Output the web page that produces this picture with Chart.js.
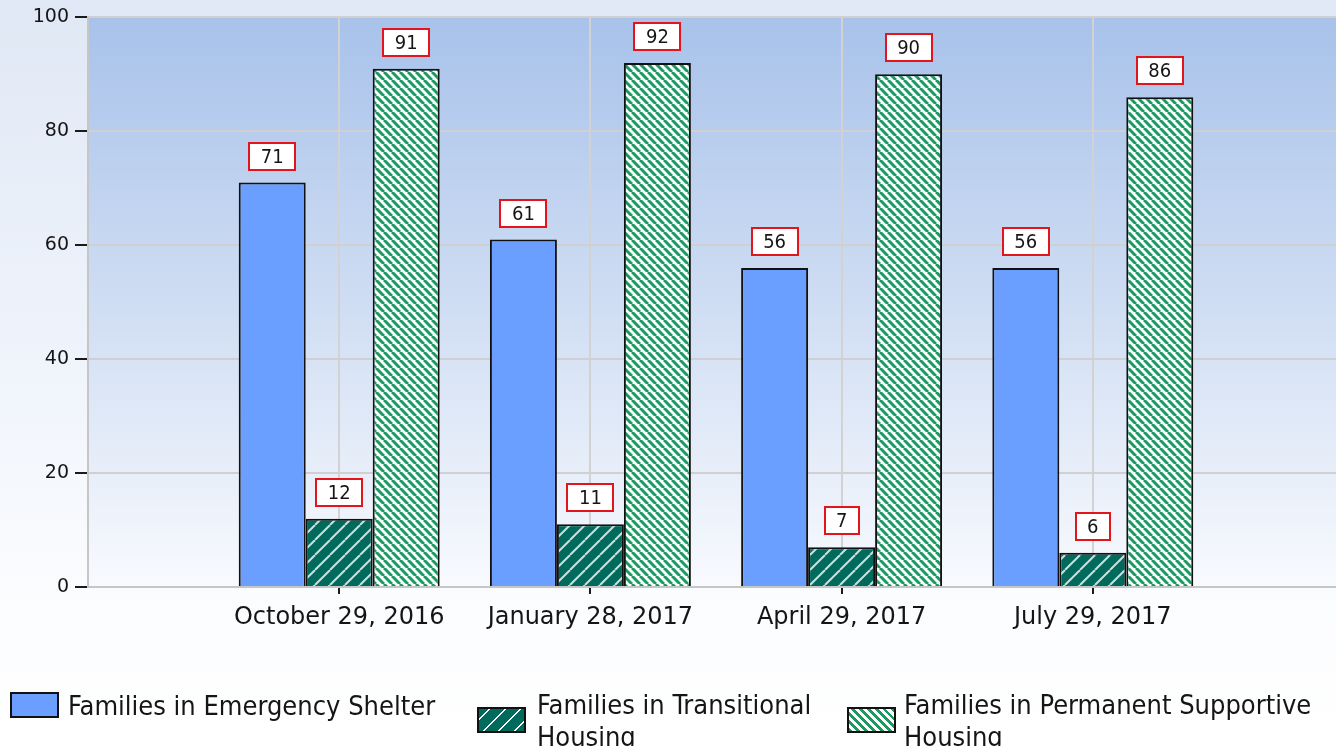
<!DOCTYPE html>
<html>
<head>
<meta charset="utf-8">
<script src="https://cdn.jsdelivr.net/npm/chart.js@4.4.0/dist/chart.umd.min.js"></script>
<style>
  html, body { margin: 0; padding: 0; width: 1336px; height: 746px; overflow: hidden; }
  body { position: relative; background: linear-gradient(#e0e8f5 0%, #eef3fb 45%, #fbfcfe 80%, #ffffff 100%); font-family: "DejaVu Sans Condensed", "DejaVu Sans", sans-serif; }
  #chart { position: absolute; left: 0; top: 0; }
  .legend-box { position: absolute; width: 45px; height: 22px; border: 2px solid #111; }
  .legend-text { position: absolute; font-size: 27px; line-height: 32px; color: #151515; }
</style>
</head>
<body>
<canvas id="chart" width="1344" height="746"></canvas>
<div id="legend"></div>
<script>
// Chart data
const categories = ['October 29, 2016', 'January 28, 2017', 'April 29, 2017', 'July 29, 2017'];
const seriesNames = ['Families in Emergency Shelter', 'Families in Transitional Housing', 'Families in Permanent Supportive Housing'];
const emergencyShelter = [71, 61, 56, 56];
const transitionalHousing = [12, 11, 7, 6];
const permanentSupportive = [91, 92, 90, 86];
const yTicks = [0, 20, 40, 60, 80, 100];

const FONT = '"DejaVu Sans Condensed", "DejaVu Sans", sans-serif';
const AXIS_FONT = '"DejaVu Sans", sans-serif';
const canvas = document.getElementById('chart');
const ctx = canvas.getContext('2d');

// diagonal hatch fill; dir 1 = "/" stripes, -1 = "\" stripes
function hatch(bg, fg, size, lw, dir) {
  const tile = document.createElement('canvas');
  tile.width = tile.height = size;
  const g = tile.getContext('2d');
  g.fillStyle = bg;
  g.fillRect(0, 0, size, size);
  g.strokeStyle = fg;
  g.lineWidth = lw;
  [-size, 0, size].forEach(o => {
    g.beginPath();
    if (dir > 0) { g.moveTo(o, size); g.lineTo(o + size, 0); }
    else { g.moveTo(o, 0); g.lineTo(o + size, size); }
    g.stroke();
  });
  return ctx.createPattern(tile, 'repeat');
}

const blueFill = '#6a9eff';
const tealFill = hatch('#006a5c', 'rgba(255,255,255,0.8)', 15, 2, 1);
const greenFill = hatch('#ffffff', '#1a9a60', 8, 3, -1);

// empty slot on each side so the bar groups sit on the grid lines
const pad = arr => [null, ...arr, null];

const plotBackground = {
  id: 'plotBackground',
  beforeDraw(chart) {
    const { ctx, chartArea: a } = chart;
    const grad = ctx.createLinearGradient(0, a.top, 0, a.bottom);
    grad.addColorStop(0, '#a8c2ea');
    grad.addColorStop(0.55, '#d3e0f4');
    grad.addColorStop(1, '#f8fafe');
    ctx.save();
    ctx.fillStyle = grad;
    ctx.fillRect(a.left, a.top, a.right - a.left, a.bottom - a.top);
    ctx.restore();
  }
};

// white value boxes with a red frame above each bar
const valueBoxes = {
  id: 'valueBoxes',
  afterDatasetsDraw(chart) {
    const c = chart.ctx;
    c.save();
    c.font = '20px ' + FONT;
    c.textAlign = 'center';
    c.textBaseline = 'middle';
    chart.data.datasets.forEach((ds, i) => {
      chart.getDatasetMeta(i).data.forEach((bar, j) => {
        const v = ds.data[j];
        if (v == null) return;
        const txt = String(v);
        const w = Math.round(c.measureText(txt).width) + 23;
        const h = 27;
        const left = Math.round(bar.x - w / 2);
        const top = Math.round(bar.y - 13 - h);
        c.fillStyle = '#ffffff';
        c.fillRect(left, top, w, h);
        c.strokeStyle = '#e3141b';
        c.lineWidth = 2;
        c.strokeRect(left, top, w, h);
        c.fillStyle = '#151515';
        c.fillText(txt, bar.x, top + h / 2 + 1);
      });
    });
    c.restore();
  }
};

const chart = new Chart(ctx, {
  type: 'bar',
  data: {
    labels: pad(categories),
    datasets: [
      { label: seriesNames[0], data: pad(emergencyShelter), backgroundColor: blueFill },
      { label: seriesNames[1], data: pad(transitionalHousing), backgroundColor: tealFill },
      { label: seriesNames[2], data: pad(permanentSupportive), backgroundColor: greenFill }
    ].map(d => Object.assign(d, { borderColor: '#111111', borderWidth: 2, categoryPercentage: 0.8, barPercentage: 1.0 }))
  },
  options: {
    responsive: false,
    animation: false,
    layout: { padding: { top: 17, right: 0, bottom: 100, left: 0 } },
    plugins: { legend: { display: false }, tooltip: { enabled: false } },
    scales: {
      x: {
        offset: false,
        grid: { offset: false, color: '#d2d2d2', lineWidth: 2, tickColor: '#1a1a1a', tickLength: 7 },
        border: { color: '#c6c6c6', width: 2 },
        ticks: { font: { family: AXIS_FONT, size: 24 }, color: '#151515', padding: 9, maxRotation: 0, autoSkip: false },
        afterFit: s => { s.height = 59; }
      },
      y: {
        min: yTicks[0],
        max: yTicks[yTicks.length - 1],
        afterBuildTicks: s => { s.ticks = yTicks.map(v => ({ value: v })); },
        grid: { color: '#d0d0d0', lineWidth: 2, tickColor: '#1a1a1a', tickLength: 13 },
        border: { color: '#c6c6c6', width: 2 },
        ticks: { font: { family: AXIS_FONT, size: 19 }, color: '#151515', padding: 6 },
        afterFit: s => { s.width = 88; }
      }
    }
  },
  plugins: [plotBackground, valueBoxes]
});

// legend below the chart, as html so the long names can wrap
const legendSpots = [
  { x: 10, boxTop: 692, textX: 68, textTop: 690, width: 420 },
  { x: 477, boxTop: 707, textX: 537, textTop: 689, width: 300 },
  { x: 847, boxTop: 707, textX: 904, textTop: 689, width: 430 }
];
const legendSwatches = [
  blueFill,
  'repeating-linear-gradient(-45deg, #006a5c 0 6px, rgba(255,255,255,0.8) 6px 7.5px, #006a5c 7.5px 11px)',
  'repeating-linear-gradient(45deg, #1a9a60 0 2.5px, #ffffff 2.5px 5.6px)'
];
const legend = document.getElementById('legend');
seriesNames.forEach((name, i) => {
  const s = legendSpots[i];
  const box = document.createElement('div');
  box.className = 'legend-box';
  box.style.left = s.x + 'px';
  box.style.top = s.boxTop + 'px';
  box.style.background = legendSwatches[i];
  const txt = document.createElement('div');
  txt.className = 'legend-text';
  txt.style.left = s.textX + 'px';
  txt.style.top = s.textTop + 'px';
  txt.style.width = s.width + 'px';
  txt.textContent = name;
  legend.appendChild(box);
  legend.appendChild(txt);
});
</script>
</body>
</html>
